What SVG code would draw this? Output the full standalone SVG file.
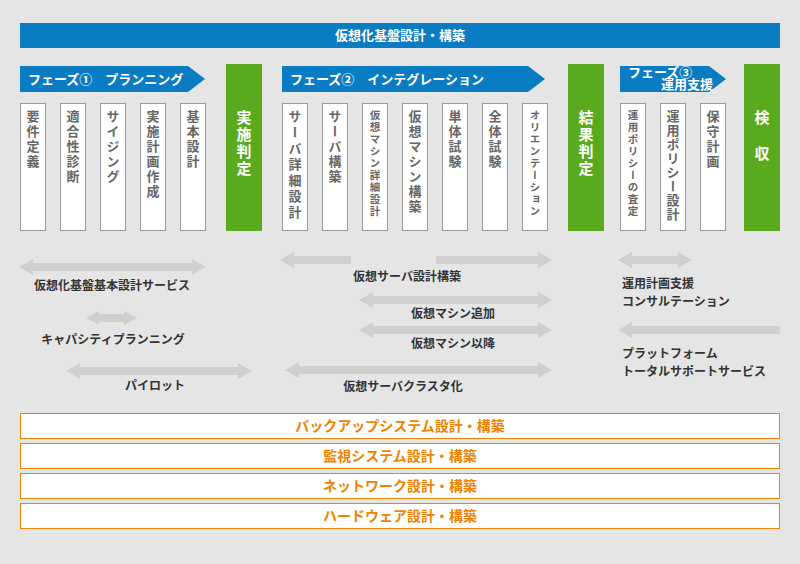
<svg xmlns="http://www.w3.org/2000/svg" width="800" height="564" viewBox="0 0 800 564">
<style>
text{font-family:"Noto Sans CJK JP","Noto Sans",sans-serif;font-weight:bold}
.box{fill:#fff;stroke:#999;stroke-width:1}
.v{writing-mode:tb;fill:#666;font-size:13px;letter-spacing:2px}
.vs{writing-mode:tb;fill:#666;font-size:10.5px;letter-spacing:1.5px}
.g{fill:#5aaa1e}
.gv{writing-mode:tb;fill:#fff;font-size:15px;letter-spacing:2px}
.ph{fill:#0a7cc4}
.pt{fill:#fff;font-size:13px}
.ar{fill:#cfcfcf}
.al{fill:#333;font-size:12px}
.ob{fill:#fff;stroke:#f08300;stroke-width:1}
.ot{fill:#f08300;font-size:14px;text-anchor:middle}
</style>
<rect width="800" height="564" fill="#e5e5e5"/>
<g id="header"><rect x="20" y="23" width="760" height="25" fill="#0a7cc4"/><text x="400" y="40" class="pt" text-anchor="middle" font-size="14">仮想化基盤設計・構築</text></g>
<g id="phase1"><polygon class="ph" points="20,66 188,66 205,79 188,92 20,92"/><text class="pt" x="28" y="84">フェーズ①　プランニング</text></g>
<g id="phase2"><polygon class="ph" points="282,66 528,66 545,79 528,92 282,92"/><text class="pt" x="290" y="84">フェーズ②　インテグレーション</text></g>
<g id="phase3"><polygon class="ph" points="620,66 709,66 726,79 709,92 620,92"/><text class="pt" x="628" y="77" font-size="10.5">フェーズ③</text><text class="pt" x="661" y="89" font-size="10">運用支援</text></g>
<g id="tasks1">
<rect class="box" x="20.5" y="103.5" width="25" height="127"/><text class="v" x="33" y="110">要件定義</text>
<rect class="box" x="60.5" y="103.5" width="25" height="127"/><text class="v" x="73" y="110">適合性診断</text>
<rect class="box" x="100.5" y="103.5" width="25" height="127"/><text class="v" x="113" y="110">サイジング</text>
<rect class="box" x="140.5" y="103.5" width="25" height="127"/><text class="v" x="153" y="110">実施計画作成</text>
<rect class="box" x="180.5" y="103.5" width="25" height="127"/><text class="v" x="193" y="110">基本設計</text>
</g>
<g id="judge1"><rect class="g" x="226" y="64" width="36" height="167"/><text class="gv" x="244" y="110">実施判定</text></g>
<g id="tasks2">
<rect class="box" x="282.5" y="103.5" width="25" height="127"/><text class="v" x="295" y="110" style="letter-spacing:3px">サーバ詳細設計</text>
<rect class="box" x="322.5" y="103.5" width="25" height="127"/><text class="v" x="335" y="110">サーバ構築</text>
<rect class="box" x="362.5" y="103.5" width="25" height="127"/><text class="vs" x="375" y="110">仮想マシン詳細設計</text>
<rect class="box" x="402.5" y="103.5" width="25" height="127"/><text class="v" x="415" y="110">仮想マシン構築</text>
<rect class="box" x="442.5" y="103.5" width="25" height="127"/><text class="v" x="455" y="110">単体試験</text>
<rect class="box" x="482.5" y="103.5" width="25" height="127"/><text class="v" x="495" y="110">全体試験</text>
<rect class="box" x="522.5" y="103.5" width="25" height="127"/><text class="vs" x="535" y="110">オリエンテーション</text>
</g>
<g id="judge2"><rect class="g" x="568" y="64" width="36" height="167"/><text class="gv" x="586" y="110">結果判定</text></g>
<g id="tasks3">
<rect class="box" x="620.5" y="103.5" width="25" height="127"/><text class="vs" x="633" y="110">運用ポリシーの査定</text>
<rect class="box" x="660.5" y="103.5" width="25" height="127"/><text class="v" x="673" y="110" style="letter-spacing:1px">運用ポリシー設計</text>
<rect class="box" x="700.5" y="103.5" width="25" height="127"/><text class="v" x="713" y="110">保守計画</text>
</g>
<g id="judge3"><rect class="g" x="744" y="64" width="36" height="167"/><text class="gv" x="762" y="110">検</text><text class="gv" x="762" y="146">収</text></g>
<g id="connectors">
<polygon class="ar" points="19,267 33,259 33,263 192,263 192,259 206,267 192,275 192,271 33,271 33,275"/>
<polygon class="ar" points="86,318 99,311 99,314 124,314 124,311 137,318 124,325 124,322 99,322 99,325"/>
<polygon class="ar" points="66,371 80,363 80,367 238,367 238,363 252,371 238,379 238,375 80,375 80,379"/>
<polygon class="ar" points="280,260 294,252 294,256 351,256 351,264 294,264 294,268"/>
<polygon class="ar" points="436,256 538,256 538,252 552,260 538,268 538,264 436,264"/>
<polygon class="ar" points="359,300 373,292 373,296 538,296 538,292 552,300 538,308 538,304 373,304 373,308"/>
<polygon class="ar" points="359,330 373,322 373,326 538,326 538,322 552,330 538,338 538,334 373,334 373,338"/>
<polygon class="ar" points="285,370 299,362 299,366 538,366 538,362 552,370 538,378 538,374 299,374 299,378"/>
<polygon class="ar" points="618,260 632,252 632,256 678,256 678,252 692,260 678,268 678,264 632,264 632,268"/>
<polygon class="ar" points="618,330 632,322 632,326 780,326 780,334 632,334 632,338"/>
</g>
<g id="labels">
<text class="al" x="112" y="290" text-anchor="middle">仮想化基盤基本設計サービス</text>
<text class="al" x="113" y="344" text-anchor="middle">キャパシティプランニング</text>
<text class="al" x="155" y="390" text-anchor="middle">パイロット</text>
<text class="al" x="407" y="281" text-anchor="middle">仮想サーバ設計構築</text>
<text class="al" x="453" y="318" text-anchor="middle">仮想マシン追加</text>
<text class="al" x="453" y="348" text-anchor="middle">仮想マシン以降</text>
<text class="al" x="403" y="391" text-anchor="middle">仮想サーバクラスタ化</text>
<text class="al" x="622" y="288">運用計画支援</text>
<text class="al" x="622" y="306">コンサルテーション</text>
<text class="al" x="622" y="358">プラットフォーム</text>
<text class="al" x="622" y="376">トータルサポートサービス</text>
</g>
<g id="bottom">
<rect class="ob" x="20.5" y="413.5" width="759" height="25"/><text class="ot" x="400" y="431">バックアップシステム設計・構築</text>
<rect class="ob" x="20.5" y="443.5" width="759" height="25"/><text class="ot" x="400" y="461">監視システム設計・構築</text>
<rect class="ob" x="20.5" y="473.5" width="759" height="25"/><text class="ot" x="400" y="491">ネットワーク設計・構築</text>
<rect class="ob" x="20.5" y="503.5" width="759" height="25"/><text class="ot" x="400" y="521">ハードウェア設計・構築</text>
</g>
</svg>
